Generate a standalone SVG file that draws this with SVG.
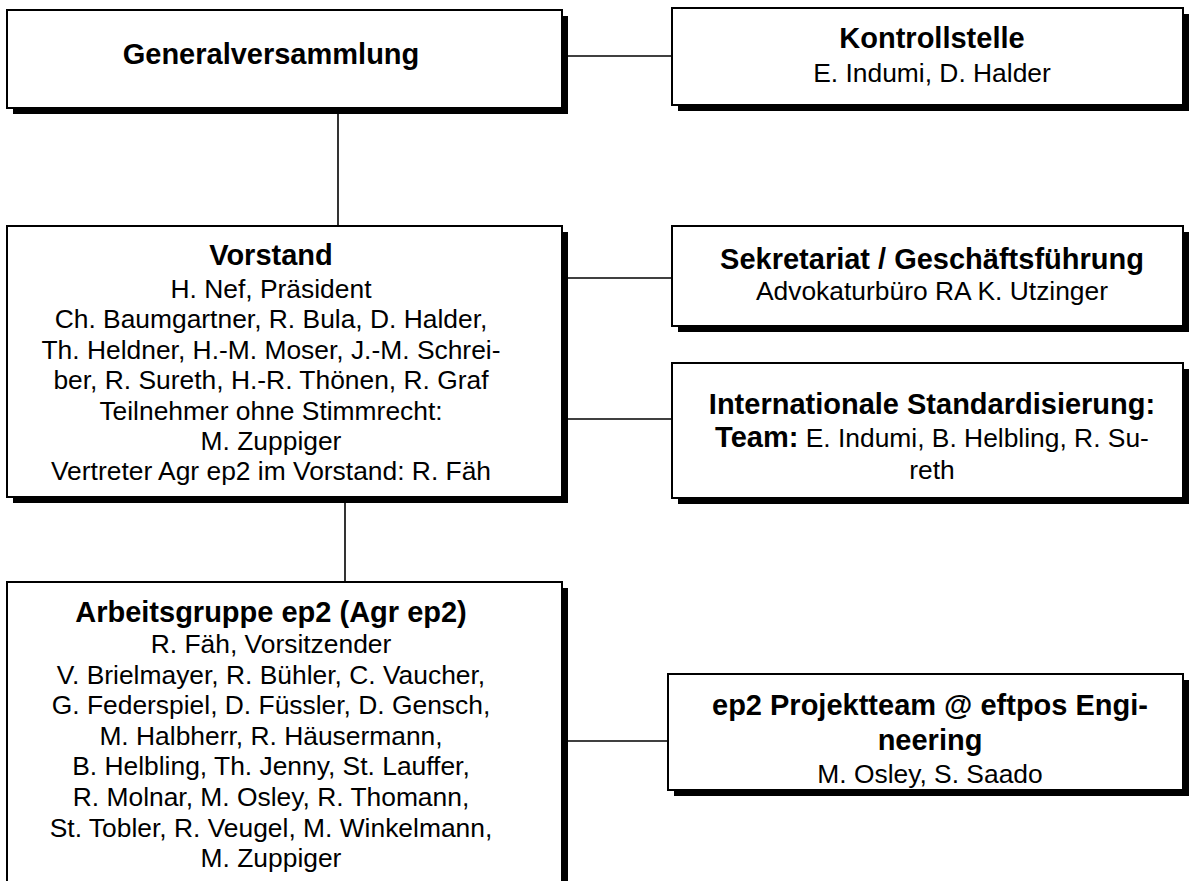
<svg xmlns="http://www.w3.org/2000/svg" width="1202" height="881" viewBox="0 0 1202 881">
<style>
.shadow{fill:#000;}
.box{fill:#fff;stroke:#000;stroke-width:2;}
.conn{stroke:#000;stroke-width:1.6;fill:none;}
text{font-family:"Liberation Sans",Arial,sans-serif;fill:#000;text-anchor:middle;}
.t{font-weight:bold;font-size:29px;}
.r{font-size:26.4px;}
.b{font-weight:bold;}
</style>
<rect width="1202" height="881" fill="#fff"/>
<g id="connectors">
<line class="conn" x1="562" y1="56" x2="672" y2="56"/>
<line class="conn" x1="338" y1="114" x2="338" y2="226"/>
<line class="conn" x1="562" y1="278" x2="672" y2="278"/>
<line class="conn" x1="562" y1="419" x2="672" y2="419"/>
<line class="conn" x1="345" y1="503" x2="345" y2="582"/>
<line class="conn" x1="562" y1="741" x2="668" y2="741"/>
</g>
<g id="generalversammlung">
<rect class="shadow" x="13" y="16" width="555" height="98"/>
<rect class="box" x="7" y="10" width="555" height="98"/>
<text class="t" x="271" y="64">Generalversammlung</text>
</g>
<g id="kontrollstelle">
<rect class="shadow" x="678" y="14" width="511" height="97"/>
<rect class="box" x="672" y="8" width="511" height="97"/>
<text class="t" x="932" y="48">Kontrollstelle</text>
<text class="r" x="932" y="82">E. Indumi, D. Halder</text>
</g>
<g id="vorstand">
<rect class="shadow" x="13" y="232" width="555" height="271"/>
<rect class="box" x="7" y="226" width="555" height="271"/>
<text class="t" x="271" y="265">Vorstand</text>
<text class="r" x="271" y="298">H. Nef, Präsident</text>
<text class="r" x="271" y="328.4">Ch. Baumgartner, R. Bula, D. Halder,</text>
<text class="r" x="271" y="358.8">Th. Heldner, H.-M. Moser, J.-M. Schrei-</text>
<text class="r" x="271" y="389.2">ber, R. Sureth, H.-R. Thönen, R. Graf</text>
<text class="r" x="271" y="419.6">Teilnehmer ohne Stimmrecht:</text>
<text class="r" x="271" y="450">M. Zuppiger</text>
<text class="r" x="271" y="480.4">Vertreter Agr ep2 im Vorstand: R. Fäh</text>
</g>
<g id="sekretariat">
<rect class="shadow" x="678" y="232" width="511" height="100"/>
<rect class="box" x="672" y="226" width="511" height="100"/>
<text class="t" x="932" y="268.5">Sekretariat / Geschäftsführung</text>
<text class="r" x="932" y="300">Advokaturbüro RA K. Utzinger</text>
</g>
<g id="standardisierung">
<rect class="shadow" x="678" y="369" width="511" height="135"/>
<rect class="box" x="672" y="363" width="511" height="135"/>
<text class="t" x="932" y="414">Internationale Standardisierung:</text>
<text class="r" x="932" y="447"><tspan class="b" font-size="29">Team:</tspan> E. Indumi, B. Helbling, R. Su-</text>
<text class="r" x="932" y="479">reth</text>
</g>
<g id="arbeitsgruppe">
<rect class="shadow" x="13" y="588" width="555" height="320"/>
<rect class="box" x="7" y="582" width="555" height="320"/>
<text class="t" x="271" y="622">Arbeitsgruppe ep2 (Agr ep2)</text>
<text class="r" x="271" y="653">R. Fäh, Vorsitzender</text>
<text class="r" x="271" y="683.6">V. Brielmayer, R. Bühler, C. Vaucher,</text>
<text class="r" x="271" y="714.2">G. Federspiel, D. Füssler, D. Gensch,</text>
<text class="r" x="271" y="744.8">M. Halbherr, R. Häusermann,</text>
<text class="r" x="271" y="775.4">B. Helbling, Th. Jenny, St. Lauffer,</text>
<text class="r" x="271" y="806">R. Molnar, M. Osley, R. Thomann,</text>
<text class="r" x="271" y="836.6">St. Tobler, R. Veugel, M. Winkelmann,</text>
<text class="r" x="271" y="867.2">M. Zuppiger</text>
</g>
<g id="projektteam">
<rect class="shadow" x="674" y="680" width="515" height="116"/>
<rect class="box" x="668" y="674" width="515" height="116"/>
<text class="t" x="930" y="715">ep2 Projektteam @ eftpos Engi-</text>
<text class="t" x="930" y="750">neering</text>
<text class="r" x="930" y="783">M. Osley, S. Saado</text>
</g>
</svg>
